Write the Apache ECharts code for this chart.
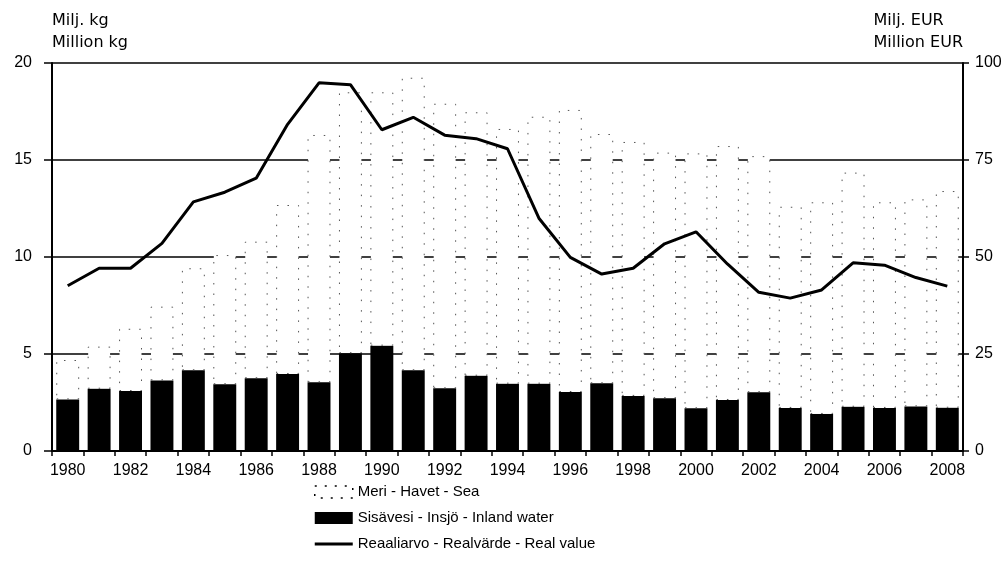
<!DOCTYPE html>
<html>
<head>
<meta charset="utf-8">
<script src="https://cdn.jsdelivr.net/npm/echarts@6/dist/echarts.min.js"></script>
<style>html,body{margin:0;padding:0;background:#fff;}#c{width:1006px;height:580px;}</style>
</head>
<body>
<div id="c"></div>
<script>
const years = ['1980','1981','1982','1983','1984','1985','1986','1987','1988','1989','1990','1991','1992','1993','1994','1995','1996','1997','1998','1999','2000','2001','2002','2003','2004','2005','2006','2007','2008'];
const inland = [2.66,3.21,3.09,3.64,4.16,3.44,3.75,3.97,3.54,5.04,5.43,4.16,3.23,3.88,3.47,3.47,3.04,3.49,2.84,2.72,2.20,2.63,3.03,2.22,1.91,2.28,2.22,2.30,2.23];
const sea = [2.03,2.17,3.21,3.80,5.26,6.66,7.04,8.71,12.75,13.45,13.06,15.08,14.67,13.58,13.13,13.76,14.54,12.85,13.09,12.66,13.14,13.09,12.17,10.37,10.91,12.07,10.60,10.67,11.17];
const realValue = [42.6,47.1,47.1,53.5,64.2,66.7,70.3,84.2,94.9,94.4,82.8,86.0,81.4,80.5,77.9,60.0,49.9,45.6,47.1,53.4,56.5,48.2,40.9,39.4,41.5,48.5,47.9,44.7,42.5];
const leftTicks = {min:0, max:20, interval:5};
const rightTicks = {min:0, max:100, interval:25};
const names = {sea:'Meri - Havet - Sea', inland:'Sisävesi - Insjö - Inland water', real:'Reaaliarvo - Realvärde - Real value'};

const FONT = 'Liberation Sans';
const lineIcon = 'path://M0,0L0.01,0L0,0.01Z M0,12L0.01,12L0,11.99Z M0,4.6L38,4.6L38,7.4L0,7.4Z';
const chart = echarts.init(document.getElementById('c'), null, {renderer:'canvas'});
chart.setOption({
  animation:false,
  backgroundColor:'#fff',
  textStyle:{fontFamily:FONT, color:'#000'},
  grid:{left:52, right:43, top:63, bottom:129},
  graphic:[
    {type:'text', left:52, top:10, style:{text:'Milj. kg\nMillion kg', font:'16px "DejaVu Sans"', fill:'#000', lineHeight:22}},
    {type:'text', right:43, top:10, style:{text:'Milj. EUR\nMillion EUR', font:'16px "DejaVu Sans"', fill:'#000', lineHeight:22, align:'right'}}
  ],
  legend:{
    orient:'vertical', left:309, top:479, itemWidth:38, itemHeight:12, itemGap:10,
    data:[
      {name:names.sea, icon:'rect', itemStyle:{color:'#fff', borderColor:'#000', borderWidth:1.5, borderType:[2,8]}},
      {name:names.inland, icon:'rect'},
      {name:names.real, icon:lineIcon, itemStyle:{color:'#000', borderWidth:0}}
    ],
    textStyle:{fontFamily:FONT, fontSize:15, color:'#000', lineHeight:16}
  },
  xAxis:{
    type:'category', data:years, boundaryGap:true,
    axisLine:{lineStyle:{color:'#000', width:2}},
    axisTick:{show:true, interval:0, length:5, lineStyle:{color:'#000', width:1.5}},
    axisLabel:{interval:1, margin:12, fontSize:16, color:'#000', fontFamily:FONT},
    splitLine:{show:false}
  },
  yAxis:[
    {type:'value', min:leftTicks.min, max:leftTicks.max, interval:leftTicks.interval,
     axisLine:{show:true, lineStyle:{color:'#000', width:2}},
     axisTick:{show:true, length:8, lineStyle:{color:'#000', width:1.5}},
     axisLabel:{margin:20, fontSize:16, color:'#000', fontFamily:FONT},
     splitLine:{show:true, lineStyle:{color:'#000', width:1.5}}},
    {type:'value', min:rightTicks.min, max:rightTicks.max, interval:rightTicks.interval, position:'right',
     axisLine:{show:true, lineStyle:{color:'#000', width:2}},
     axisTick:{show:true, length:6, lineStyle:{color:'#000', width:1.5}},
     axisLabel:{margin:12, fontSize:16, color:'#000', fontFamily:FONT},
     splitLine:{show:false}}
  ],
  series:[
    {name:names.inland, type:'bar', stack:'total', data:inland, barCategoryGap:'27%',
     itemStyle:{color:'#000', borderWidth:0}},
    {name:names.sea, type:'bar', stack:'total', data:sea,
     itemStyle:{color:'#fff', borderColor:'#555', borderWidth:1, borderType:[1.5,9]}},
    {name:names.real, type:'line', yAxisIndex:1, data:realValue, symbol:'none',
     lineStyle:{color:'#000', width:3}, itemStyle:{color:'#000'}, z:5}
  ]
});
</script>
</body>
</html>
